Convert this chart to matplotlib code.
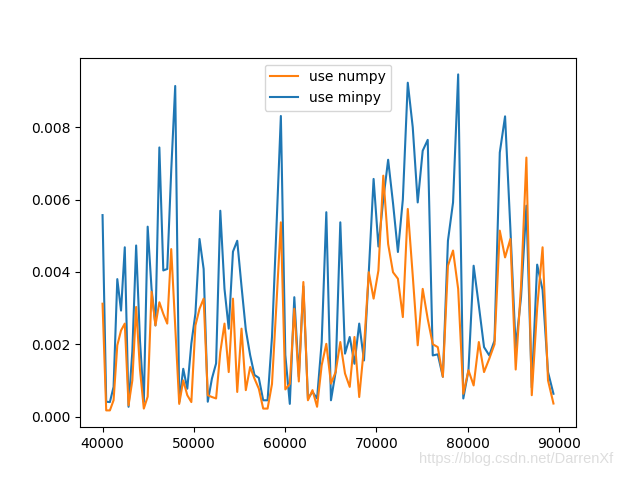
import matplotlib
matplotlib.use("Agg")
import matplotlib.pyplot as plt

x = [40000, 40401, 40804, 41209, 41616, 42025, 42436, 42849, 43264, 43681,
     44100, 44521, 44944, 45369, 45796, 46225, 46656, 47089, 47524, 47961,
     48400, 48841, 49284, 49729, 50176, 50625, 51076, 51529, 51984, 52441,
     52900, 53361, 53824, 54289, 54756, 55225, 55696, 56169, 56644, 57121,
     57600, 58081, 58564, 59049, 59536, 60025, 60516, 61009, 61504, 62001,
     62500, 63001, 63504, 64009, 64516, 65025, 65536, 66049, 66564, 67081,
     67600, 68121, 68644, 69169, 69696, 70225, 70756, 71289, 71824, 72361,
     72900, 73441, 73984, 74529, 75076, 75625, 76176, 76729, 77284, 77841,
     78400, 78961, 79524, 80089, 80656, 81225, 81796, 82369, 82944, 83521,
     84100, 84681, 85264, 85849, 86436, 87025, 87616, 88209, 88804, 89401]

minpy_time = [
    0.00557, 0.00041, 0.00040, 0.00082, 0.00380, 0.00293, 0.00468, 0.00027, 0.00180, 0.00473,
    0.00210, 0.00040, 0.00525, 0.00353, 0.00252, 0.00744, 0.00404, 0.00408, 0.00680, 0.00914,
    0.00040, 0.00132, 0.00077, 0.00202, 0.00285, 0.00491, 0.00408, 0.00041, 0.00105, 0.00147,
    0.00569, 0.00353, 0.00243, 0.00456, 0.00486, 0.00360, 0.00240, 0.00170, 0.00115, 0.00107,
    0.00045, 0.00045, 0.00220, 0.00520, 0.00831, 0.00170, 0.00035, 0.00330, 0.00110, 0.00360,
    0.00050, 0.00068, 0.00050, 0.00206, 0.00565, 0.00045, 0.00123, 0.00537, 0.00174, 0.00220,
    0.00146, 0.00257, 0.00155, 0.00399, 0.00657, 0.00470, 0.00600, 0.00710, 0.00590, 0.00455,
    0.00600, 0.00923, 0.00800, 0.00592, 0.00735, 0.00765, 0.00169, 0.00172, 0.00110, 0.00486,
    0.00592, 0.00946, 0.00050, 0.00128, 0.00417, 0.00307, 0.00192, 0.00169, 0.00210, 0.00730,
    0.00830, 0.00520, 0.00190, 0.00330, 0.00583, 0.00080, 0.00420, 0.00350, 0.00123, 0.00063]

numpy_time = [
    0.00312, 0.00017, 0.00017, 0.00045, 0.00197, 0.00238, 0.00257, 0.00031, 0.00100, 0.00303,
    0.00130, 0.00022, 0.00055, 0.00345, 0.00252, 0.00316, 0.00284, 0.00257, 0.00463, 0.00250,
    0.00035, 0.00100, 0.00059, 0.00040, 0.00252, 0.00298, 0.00326, 0.00059, 0.00054, 0.00050,
    0.00178, 0.00257, 0.00123, 0.00326, 0.00068, 0.00243, 0.00073, 0.00137, 0.00105, 0.00077,
    0.00022, 0.00022, 0.00090, 0.00310, 0.00537, 0.00075, 0.00090, 0.00298, 0.00097, 0.00372,
    0.00045, 0.00073, 0.00027, 0.00142, 0.00201, 0.00091, 0.00123, 0.00206, 0.00119, 0.00082,
    0.00220, 0.00054, 0.00192, 0.00399, 0.00326, 0.00404, 0.00666, 0.00477, 0.00399, 0.00381,
    0.00275, 0.00574, 0.00390, 0.00197, 0.00353, 0.00270, 0.00200, 0.00192, 0.00110, 0.00417,
    0.00459, 0.00353, 0.00063, 0.00128, 0.00086, 0.00206, 0.00123, 0.00160, 0.00200, 0.00514,
    0.00440, 0.00491, 0.00130, 0.00360, 0.00716, 0.00059, 0.00300, 0.00468, 0.00100, 0.00036]

labels = ["use numpy", "use minpy"]

fig, ax = plt.subplots(figsize=(6.4, 4.8), dpi=100)
l_minpy, = ax.plot(x, minpy_time, color="#1f77b4")
l_numpy, = ax.plot(x, numpy_time, color="#ff7f0e")
ax.legend([l_numpy, l_minpy], labels, loc="upper center")

fig.text(0.655, 0.035, "https://blog.csdn.net/DarrenXf", color="#dddddd",
         fontsize=10.5, family="Liberation Sans")

fig.savefig("out.png", dpi=100)
